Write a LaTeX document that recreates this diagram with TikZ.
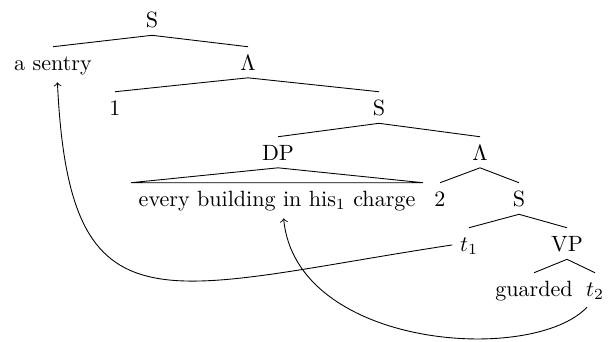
\documentclass[tikz,border=0pt]{standalone}
\usetikzlibrary{arrows}
\begin{document}
\begin{tikzpicture}[x=0.4525pt,y=-0.4525pt,
  lbl/.style={anchor=base,inner sep=0.3333em,text height=7pt},
  branch/.style={line width=0.4pt},
  move/.style={->,line width=0.4pt}]
\useasboundingbox (0,0) rectangle (610,341);
% tree nodes, placed on their baselines
\node[lbl] (S0) at (152,27) {S};
\node[lbl] (sentry) at (53,70) {a sentry};
\node[lbl] (L0) at (248,70) {$\Lambda$};
\node[lbl] (one) at (115,115) {1};
\node[lbl] (S1) at (379,115) {S};
\node[lbl] (DP) at (278,160) {DP};
\node[lbl] (L1) at (480,160) {$\Lambda$};
\node[lbl] (ebc) at (277,206) {every building in his$_1$ charge};
\node[lbl] (two) at (440,206) {2};
\node[lbl] (S2) at (519,206) {S};
\node[lbl] (t1) at (469,251) {$t_1$};
\node[lbl] (VP) at (567,251) {VP};
\node[lbl] (guarded) at (534,296) {guarded};
\node[lbl] (t2) at (595,296) {$t_2$};
% branches
\draw[branch] (sentry.north) -- (S0.south) -- (L0.north);
\draw[branch] (one.north) -- (L0.south) -- (S1.north);
\draw[branch] (DP.north) -- (S1.south) -- (L1.north);
\draw[branch] (ebc.north west) -- (DP.south) -- (ebc.north east) -- cycle;
\draw[branch] (two.north) -- (L1.south) -- (S2.north);
\draw[branch] (t1.north) -- (S2.south) -- (VP.north);
\draw[branch] (guarded.north) -- (VP.south) -- (t2.north);
% movement arrows
\draw[move] (t1.west) .. controls +(-290,44) and +(12,258) .. ([xshift=2]sentry.south);
\draw[move] ([xshift=4]t2.south west) .. controls +(-55,58) and +(12,130) .. ([xshift=3]ebc.south);
\end{tikzpicture}
\end{document}
